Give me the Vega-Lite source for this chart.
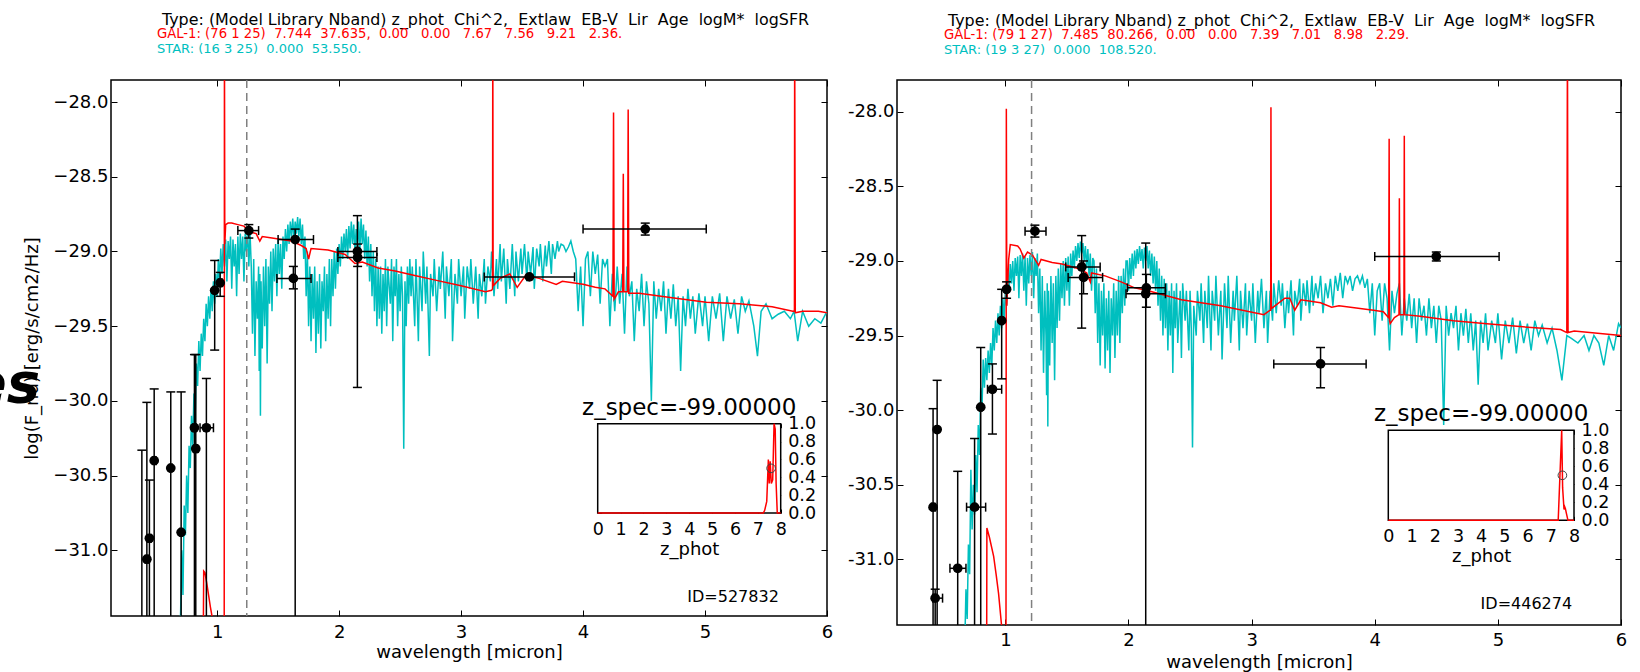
{
"$schema": "https://vega.github.io/schema/vega-lite/v6.json",
"background": "white",
"padding": {"left": -33, "top": 11, "right": 0, "bottom": 0},
"spacing": 70,
"bounds": "flush",
"config": {
 "view": {"stroke": "black", "strokeWidth": 1.5},
 "axis": {"labelFont": "DejaVu Sans", "titleFont": "DejaVu Sans", "labelColor": "black", "titleColor": "black", "tickColor": "black", "domain": false, "grid": false, "titleFontWeight": "normal", "labelFontSize": 18, "titleFontSize": 18, "tickWidth": 1},
 "text": {"font": "DejaVu Sans"}
},
"datasets": {
 "starA": [{"x":0.66,"y":-31.7},{"x":0.7,"y":-31.45},{"x":0.71,"y":-31.0},{"x":0.72,"y":-31.3},{"x":0.73,"y":-30.7},{"x":0.74,"y":-30.9},{"x":0.75,"y":-30.5},{"x":0.76,"y":-30.75},{"x":0.77,"y":-30.3},{"x":0.78,"y":-30.45},{"x":0.79,"y":-30.1},{"x":0.8,"y":-30.3},{"x":0.81,"y":-29.95},{"x":0.82,"y":-30.1},{"x":0.83,"y":-29.75},{"x":0.84,"y":-29.9},{"x":0.85,"y":-29.6},{"x":0.86,"y":-29.8},{"x":0.87,"y":-29.55},{"x":0.88,"y":-29.7},{"x":0.89,"y":-29.45},{"x":0.9,"y":-29.6},{"x":0.91,"y":-29.35},{"x":0.92,"y":-29.5},{"x":0.93,"y":-29.3},{"x":0.94,"y":-29.45},{"x":0.95,"y":-29.25},{"x":0.96,"y":-29.4},{"x":0.97,"y":-29.2},{"x":0.98,"y":-29.35},{"x":0.99,"y":-29.15},{"x":1.0,"y":-29.3},{"x":1.01,"y":-29.05},{"x":1.02,"y":-29.2},{"x":1.03,"y":-28.98},{"x":1.04,"y":-29.15},{"x":1.05,"y":-28.95},{"x":1.06,"y":-29.1},{"x":1.07,"y":-28.92},{"x":1.08,"y":-29.2},{"x":1.09,"y":-28.93},{"x":1.1,"y":-29.05},{"x":1.11,"y":-28.9},{"x":1.12,"y":-29.25},{"x":1.13,"y":-28.92},{"x":1.14,"y":-29.1},{"x":1.15,"y":-28.95},{"x":1.16,"y":-29.3},{"x":1.17,"y":-28.9},{"x":1.18,"y":-29.15},{"x":1.19,"y":-28.88},{"x":1.2,"y":-29.05},{"x":1.21,"y":-28.9},{"x":1.22,"y":-29.2},{"x":1.23,"y":-28.88},{"x":1.24,"y":-29.0},{"x":1.25,"y":-28.85},{"x":1.26,"y":-29.1},{"x":1.27,"y":-28.88},{"x":1.28,"y":-29.1},{"x":1.29,"y":-29.55},{"x":1.3,"y":-29.05},{"x":1.31,"y":-29.7},{"x":1.32,"y":-29.2},{"x":1.33,"y":-29.45},{"x":1.34,"y":-29.1},{"x":1.345,"y":-29.8},{"x":1.35,"y":-29.15},{"x":1.355,"y":-30.1},{"x":1.36,"y":-29.2},{"x":1.37,"y":-29.65},{"x":1.38,"y":-29.1},{"x":1.39,"y":-29.5},{"x":1.4,"y":-29.05},{"x":1.41,"y":-29.75},{"x":1.42,"y":-29.1},{"x":1.43,"y":-29.35},{"x":1.44,"y":-29.0},{"x":1.45,"y":-29.4},{"x":1.46,"y":-28.98},{"x":1.47,"y":-29.2},{"x":1.48,"y":-28.95},{"x":1.49,"y":-29.3},{"x":1.5,"y":-28.92},{"x":1.51,"y":-29.15},{"x":1.52,"y":-28.95},{"x":1.53,"y":-29.25},{"x":1.54,"y":-28.9},{"x":1.55,"y":-29.05},{"x":1.56,"y":-28.85},{"x":1.57,"y":-29.0},{"x":1.58,"y":-28.82},{"x":1.59,"y":-28.95},{"x":1.6,"y":-28.8},{"x":1.61,"y":-28.9},{"x":1.62,"y":-28.78},{"x":1.63,"y":-28.92},{"x":1.64,"y":-28.8},{"x":1.65,"y":-28.88},{"x":1.66,"y":-28.77},{"x":1.67,"y":-28.9},{"x":1.68,"y":-28.78},{"x":1.69,"y":-28.95},{"x":1.7,"y":-28.82},{"x":1.71,"y":-29.05},{"x":1.72,"y":-28.9},{"x":1.73,"y":-29.3},{"x":1.74,"y":-29.0},{"x":1.75,"y":-29.5},{"x":1.76,"y":-29.1},{"x":1.77,"y":-29.6},{"x":1.78,"y":-29.15},{"x":1.79,"y":-29.45},{"x":1.8,"y":-29.1},{"x":1.81,"y":-29.68},{"x":1.82,"y":-29.2},{"x":1.83,"y":-29.55},{"x":1.84,"y":-29.15},{"x":1.85,"y":-29.65},{"x":1.86,"y":-29.2},{"x":1.87,"y":-29.4},{"x":1.88,"y":-29.1},{"x":1.89,"y":-29.6},{"x":1.9,"y":-29.15},{"x":1.91,"y":-29.45},{"x":1.92,"y":-29.05},{"x":1.93,"y":-29.5},{"x":1.94,"y":-29.05},{"x":1.95,"y":-29.3},{"x":1.96,"y":-29.0},{"x":1.97,"y":-29.25},{"x":1.98,"y":-28.98},{"x":1.99,"y":-29.15},{"x":2.0,"y":-28.95},{"x":2.01,"y":-29.1},{"x":2.02,"y":-28.9},{"x":2.03,"y":-29.05},{"x":2.04,"y":-28.88},{"x":2.05,"y":-29.0},{"x":2.06,"y":-28.85},{"x":2.07,"y":-29.05},{"x":2.08,"y":-28.83},{"x":2.09,"y":-28.98},{"x":2.1,"y":-28.8},{"x":2.11,"y":-28.95},{"x":2.12,"y":-28.82},{"x":2.13,"y":-29.0},{"x":2.14,"y":-28.85},{"x":2.15,"y":-28.97},{"x":2.16,"y":-28.8},{"x":2.17,"y":-29.0},{"x":2.18,"y":-28.78},{"x":2.19,"y":-28.95},{"x":2.2,"y":-28.82},{"x":2.21,"y":-29.05},{"x":2.22,"y":-28.86},{"x":2.23,"y":-29.1},{"x":2.24,"y":-28.9},{"x":2.25,"y":-29.2},{"x":2.26,"y":-28.95},{"x":2.27,"y":-29.3},{"x":2.28,"y":-29.0},{"x":2.29,"y":-29.4},{"x":2.3,"y":-29.05},{"x":2.31,"y":-29.5},{"x":2.32,"y":-29.1},{"x":2.33,"y":-29.45},{"x":2.34,"y":-29.1},{"x":2.35,"y":-29.55},{"x":2.36,"y":-29.15},{"x":2.37,"y":-29.4},{"x":2.38,"y":-29.05},{"x":2.39,"y":-29.5},{"x":2.4,"y":-29.1},{"x":2.42,"y":-29.35},{"x":2.43,"y":-29.05},{"x":2.44,"y":-29.6},{"x":2.45,"y":-29.1},{"x":2.46,"y":-29.3},{"x":2.47,"y":-29.05},{"x":2.48,"y":-29.5},{"x":2.49,"y":-29.15},{"x":2.5,"y":-29.4},{"x":2.51,"y":-29.1},{"x":2.52,"y":-29.3},{"x":2.53,"y":-30.32},{"x":2.54,"y":-29.2},{"x":2.55,"y":-29.5},{"x":2.56,"y":-29.1},{"x":2.57,"y":-29.35},{"x":2.58,"y":-29.05},{"x":2.59,"y":-29.3},{"x":2.6,"y":-29.1},{"x":2.62,"y":-29.5},{"x":2.63,"y":-29.05},{"x":2.65,"y":-29.6},{"x":2.66,"y":-29.1},{"x":2.68,"y":-29.4},{"x":2.69,"y":-29.0},{"x":2.71,"y":-29.35},{"x":2.72,"y":-29.1},{"x":2.74,"y":-29.7},{"x":2.75,"y":-29.15},{"x":2.77,"y":-29.3},{"x":2.78,"y":-29.05},{"x":2.8,"y":-29.4},{"x":2.82,"y":-29.1},{"x":2.83,"y":-29.25},{"x":2.85,"y":-29.0},{"x":2.87,"y":-29.45},{"x":2.88,"y":-29.1},{"x":2.9,"y":-29.3},{"x":2.92,"y":-29.05},{"x":2.93,"y":-29.6},{"x":2.95,"y":-29.15},{"x":2.97,"y":-29.35},{"x":2.98,"y":-29.05},{"x":3.0,"y":-29.3},{"x":3.02,"y":-29.1},{"x":3.03,"y":-29.45},{"x":3.05,"y":-29.1},{"x":3.07,"y":-29.25},{"x":3.08,"y":-29.05},{"x":3.1,"y":-29.35},{"x":3.12,"y":-29.1},{"x":3.14,"y":-29.45},{"x":3.15,"y":-29.15},{"x":3.17,"y":-29.3},{"x":3.19,"y":-29.05},{"x":3.2,"y":-29.35},{"x":3.22,"y":-29.1},{"x":3.24,"y":-29.2},{"x":3.25,"y":-29.0},{"x":3.27,"y":-29.3},{"x":3.29,"y":-29.05},{"x":3.3,"y":-29.25},{"x":3.32,"y":-28.95},{"x":3.33,"y":-29.2},{"x":3.35,"y":-28.98},{"x":3.37,"y":-29.35},{"x":3.38,"y":-29.05},{"x":3.4,"y":-29.25},{"x":3.42,"y":-28.95},{"x":3.44,"y":-29.3},{"x":3.45,"y":-29.0},{"x":3.47,"y":-29.2},{"x":3.49,"y":-28.98},{"x":3.5,"y":-29.15},{"x":3.52,"y":-28.95},{"x":3.54,"y":-29.2},{"x":3.55,"y":-29.0},{"x":3.57,"y":-29.15},{"x":3.59,"y":-28.97},{"x":3.6,"y":-29.25},{"x":3.62,"y":-28.98},{"x":3.64,"y":-29.1},{"x":3.65,"y":-28.95},{"x":3.67,"y":-29.2},{"x":3.69,"y":-28.96},{"x":3.7,"y":-29.1},{"x":3.72,"y":-28.93},{"x":3.74,"y":-29.15},{"x":3.75,"y":-28.95},{"x":3.77,"y":-29.05},{"x":3.79,"y":-28.93},{"x":3.8,"y":-29.0},{"x":3.82,"y":-28.95},{"x":3.84,"y":-28.96},{"x":3.86,"y":-29.0},{"x":3.88,"y":-28.97},{"x":3.9,"y":-28.93},{"x":3.92,"y":-29.0},{"x":3.94,"y":-29.05},{"x":3.96,"y":-29.4},{"x":3.98,"y":-29.1},{"x":4.0,"y":-29.5},{"x":4.02,"y":-29.05},{"x":4.04,"y":-29.0},{"x":4.06,"y":-29.3},{"x":4.08,"y":-29.0},{"x":4.1,"y":-29.15},{"x":4.12,"y":-29.02},{"x":4.14,"y":-29.35},{"x":4.16,"y":-29.05},{"x":4.18,"y":-29.1},{"x":4.2,"y":-29.05},{"x":4.22,"y":-29.5},{"x":4.24,"y":-29.15},{"x":4.26,"y":-29.4},{"x":4.28,"y":-29.1},{"x":4.3,"y":-29.35},{"x":4.32,"y":-29.15},{"x":4.34,"y":-29.55},{"x":4.36,"y":-29.1},{"x":4.38,"y":-29.3},{"x":4.4,"y":-29.2},{"x":4.42,"y":-29.6},{"x":4.44,"y":-29.25},{"x":4.46,"y":-29.4},{"x":4.48,"y":-29.15},{"x":4.5,"y":-29.5},{"x":4.52,"y":-29.2},{"x":4.54,"y":-29.35},{"x":4.56,"y":-30.0},{"x":4.58,"y":-29.2},{"x":4.6,"y":-29.45},{"x":4.62,"y":-29.25},{"x":4.64,"y":-29.4},{"x":4.66,"y":-29.2},{"x":4.68,"y":-29.55},{"x":4.7,"y":-29.25},{"x":4.72,"y":-29.45},{"x":4.74,"y":-29.22},{"x":4.76,"y":-29.5},{"x":4.78,"y":-29.3},{"x":4.8,"y":-29.8},{"x":4.82,"y":-29.3},{"x":4.84,"y":-29.5},{"x":4.86,"y":-29.25},{"x":4.88,"y":-29.45},{"x":4.9,"y":-29.3},{"x":4.92,"y":-29.55},{"x":4.95,"y":-29.28},{"x":4.98,"y":-29.5},{"x":5.0,"y":-29.3},{"x":5.03,"y":-29.6},{"x":5.06,"y":-29.3},{"x":5.09,"y":-29.45},{"x":5.12,"y":-29.28},{"x":5.15,"y":-29.6},{"x":5.18,"y":-29.3},{"x":5.21,"y":-29.45},{"x":5.24,"y":-29.32},{"x":5.27,"y":-29.55},{"x":5.3,"y":-29.3},{"x":5.33,"y":-29.4},{"x":5.36,"y":-29.33},{"x":5.4,"y":-29.5},{"x":5.43,"y":-29.7},{"x":5.46,"y":-29.4},{"x":5.5,"y":-29.35},{"x":5.55,"y":-29.45},{"x":5.6,"y":-29.42},{"x":5.65,"y":-29.4},{"x":5.7,"y":-29.45},{"x":5.73,"y":-29.4},{"x":5.76,"y":-29.6},{"x":5.8,"y":-29.4},{"x":5.85,"y":-29.5},{"x":5.9,"y":-29.45},{"x":5.95,"y":-29.48},{"x":6.0,"y":-29.4}],
 "galA": [{"x":0.8,"y":-31.8},{"x":0.885,"y":-31.8},{"x":0.89,"y":-31.14},{"x":0.9,"y":-31.15},{"x":0.915,"y":-31.22},{"x":0.93,"y":-31.3},{"x":0.945,"y":-31.38},{"x":0.96,"y":-31.45},{"x":0.98,"y":-31.6},{"x":1.05,"y":-31.8},{"x":1.058,"y":-31.8},{"x":1.06,"y":-27.5},{"x":1.063,"y":-28.95},{"x":1.07,"y":-28.82},{"x":1.09,"y":-28.81},{"x":1.12,"y":-28.81},{"x":1.17,"y":-28.82},{"x":1.22,"y":-28.83},{"x":1.27,"y":-28.87},{"x":1.32,"y":-28.88},{"x":1.35,"y":-28.93},{"x":1.37,"y":-28.9},{"x":1.45,"y":-28.91},{"x":1.53,"y":-28.92},{"x":1.61,"y":-28.93},{"x":1.69,"y":-28.96},{"x":1.73,"y":-28.98},{"x":1.75,"y":-29.05},{"x":1.77,"y":-28.98},{"x":1.91,"y":-28.99},{"x":2.05,"y":-29.02},{"x":2.13,"y":-29.08},{"x":2.19,"y":-29.07},{"x":2.32,"y":-29.11},{"x":2.46,"y":-29.13},{"x":2.62,"y":-29.16},{"x":2.78,"y":-29.19},{"x":3.0,"y":-29.23},{"x":3.2,"y":-29.27},{"x":3.25,"y":-29.26},{"x":3.258,"y":-29.25},{"x":3.26,"y":-27.5},{"x":3.263,"y":-29.23},{"x":3.32,"y":-29.18},{"x":3.4,"y":-29.15},{"x":3.46,"y":-29.24},{"x":3.53,"y":-29.16},{"x":3.64,"y":-29.18},{"x":3.78,"y":-29.22},{"x":3.83,"y":-29.2},{"x":4.0,"y":-29.22},{"x":4.1,"y":-29.24},{"x":4.18,"y":-29.25},{"x":4.245,"y":-29.3},{"x":4.25,"y":-28.07},{"x":4.255,"y":-29.32},{"x":4.29,"y":-29.27},{"x":4.325,"y":-29.27},{"x":4.33,"y":-28.48},{"x":4.335,"y":-29.27},{"x":4.365,"y":-29.27},{"x":4.37,"y":-28.05},{"x":4.375,"y":-29.28},{"x":4.46,"y":-29.28},{"x":4.73,"y":-29.31},{"x":5.01,"y":-29.34},{"x":5.28,"y":-29.35},{"x":5.55,"y":-29.37},{"x":5.72,"y":-29.4},{"x":5.733,"y":-29.4},{"x":5.735,"y":-27.5},{"x":5.74,"y":-29.41},{"x":5.8,"y":-29.4},{"x":5.93,"y":-29.4},{"x":6.0,"y":-29.41}],
 "obsA": [{"x":0.383,"y":-31.6,"ylo":-32.0,"yhi":-30.33,"xlo":0.383,"xhi":0.383},{"x":0.424,"y":-31.06,"ylo":-32.0,"yhi":-30.01,"xlo":0.41,"xhi":0.44},{"x":0.445,"y":-30.92,"ylo":-32.0,"yhi":-30.53,"xlo":0.43,"xhi":0.46},{"x":0.484,"y":-30.4,"ylo":-32.0,"yhi":-29.92,"xlo":0.47,"xhi":0.5},{"x":0.62,"y":-30.45,"ylo":-32.0,"yhi":-29.94,"xlo":0.61,"xhi":0.63},{"x":0.705,"y":-30.88,"ylo":-32.0,"yhi":-29.94,"xlo":0.695,"xhi":0.715},{"x":0.814,"y":-30.18,"ylo":-32.0,"yhi":-29.69,"xlo":0.8,"xhi":0.83},{"x":0.825,"y":-30.32,"ylo":-32.0,"yhi":-29.69,"xlo":0.81,"xhi":0.84},{"x":0.912,"y":-30.18,"ylo":-32.0,"yhi":-29.85,"xlo":0.86,"xhi":0.97},{"x":0.98,"y":-29.26,"ylo":-29.66,"yhi":-29.06,"xlo":0.97,"xhi":0.99},{"x":1.025,"y":-29.21,"ylo":-29.3,"yhi":-29.14,"xlo":1.01,"xhi":1.04},{"x":1.26,"y":-28.86,"ylo":-28.91,"yhi":-28.82,"xlo":1.17,"xhi":1.34},{"x":1.64,"y":-28.92,"ylo":-32.0,"yhi":-28.85,"xlo":1.5,"xhi":1.79},{"x":1.625,"y":-29.18,"ylo":-29.25,"yhi":-29.1,"xlo":1.49,"xhi":1.77},{"x":2.15,"y":-29.0,"ylo":-29.91,"yhi":-28.76,"xlo":1.99,"xhi":2.31},{"x":2.152,"y":-29.04,"ylo":-29.1,"yhi":-28.95,"xlo":1.99,"xhi":2.31},{"x":3.56,"y":-29.17,"ylo":-29.18,"yhi":-29.16,"xlo":3.19,"xhi":3.93},{"x":4.51,"y":-28.85,"ylo":-28.89,"yhi":-28.81,"xlo":4.0,"xhi":5.01}],
 "pdfA": [{"z":0,"p":0},{"z":7.24,"p":0},{"z":7.3,"p":0.03},{"z":7.39,"p":0.13},{"z":7.46,"p":0.6},{"z":7.5,"p":0.33},{"z":7.54,"p":0.58},{"z":7.59,"p":0.33},{"z":7.65,"p":0.37},{"z":7.71,"p":1.0},{"z":7.76,"p":0.94},{"z":7.8,"p":0.33},{"z":7.85,"p":0},{"z":8,"p":0}],
 "starB": [{"x":0.67,"y":-31.6},{"x":0.68,"y":-31.2},{"x":0.69,"y":-31.4},{"x":0.7,"y":-30.9},{"x":0.71,"y":-31.1},{"x":0.72,"y":-30.4},{"x":0.73,"y":-30.8},{"x":0.74,"y":-30.5},{"x":0.75,"y":-30.7},{"x":0.76,"y":-30.3},{"x":0.77,"y":-30.55},{"x":0.78,"y":-30.1},{"x":0.79,"y":-30.3},{"x":0.8,"y":-29.85},{"x":0.81,"y":-30.0},{"x":0.82,"y":-29.66},{"x":0.83,"y":-29.85},{"x":0.84,"y":-29.65},{"x":0.85,"y":-29.8},{"x":0.86,"y":-29.6},{"x":0.87,"y":-29.75},{"x":0.88,"y":-29.55},{"x":0.89,"y":-29.7},{"x":0.9,"y":-29.45},{"x":0.91,"y":-29.6},{"x":0.92,"y":-29.4},{"x":0.93,"y":-29.55},{"x":0.94,"y":-29.35},{"x":0.95,"y":-29.5},{"x":0.96,"y":-29.3},{"x":0.97,"y":-29.45},{"x":0.98,"y":-29.25},{"x":0.99,"y":-29.4},{"x":1.0,"y":-29.2},{"x":1.01,"y":-29.3},{"x":1.02,"y":-29.05},{"x":1.03,"y":-29.2},{"x":1.04,"y":-29.02},{"x":1.05,"y":-29.15},{"x":1.06,"y":-29.0},{"x":1.07,"y":-29.2},{"x":1.08,"y":-28.98},{"x":1.09,"y":-29.1},{"x":1.1,"y":-28.97},{"x":1.11,"y":-29.25},{"x":1.12,"y":-28.96},{"x":1.13,"y":-29.1},{"x":1.14,"y":-28.95},{"x":1.15,"y":-29.2},{"x":1.16,"y":-28.97},{"x":1.17,"y":-29.3},{"x":1.18,"y":-28.98},{"x":1.19,"y":-29.15},{"x":1.2,"y":-28.96},{"x":1.21,"y":-29.1},{"x":1.22,"y":-28.94},{"x":1.23,"y":-29.25},{"x":1.24,"y":-28.98},{"x":1.25,"y":-29.1},{"x":1.26,"y":-28.95},{"x":1.27,"y":-29.35},{"x":1.28,"y":-29.05},{"x":1.29,"y":-29.6},{"x":1.3,"y":-29.1},{"x":1.31,"y":-29.75},{"x":1.32,"y":-29.2},{"x":1.33,"y":-29.5},{"x":1.335,"y":-29.9},{"x":1.34,"y":-29.15},{"x":1.345,"y":-30.11},{"x":1.35,"y":-29.2},{"x":1.36,"y":-29.7},{"x":1.37,"y":-29.1},{"x":1.38,"y":-29.55},{"x":1.39,"y":-29.15},{"x":1.4,"y":-29.8},{"x":1.41,"y":-29.1},{"x":1.42,"y":-29.45},{"x":1.43,"y":-29.05},{"x":1.44,"y":-29.4},{"x":1.45,"y":-29.02},{"x":1.46,"y":-29.25},{"x":1.47,"y":-29.0},{"x":1.48,"y":-29.3},{"x":1.49,"y":-28.98},{"x":1.5,"y":-29.2},{"x":1.51,"y":-28.97},{"x":1.52,"y":-29.3},{"x":1.53,"y":-28.95},{"x":1.54,"y":-29.1},{"x":1.55,"y":-28.93},{"x":1.56,"y":-29.05},{"x":1.57,"y":-28.9},{"x":1.58,"y":-29.0},{"x":1.59,"y":-28.88},{"x":1.6,"y":-28.98},{"x":1.61,"y":-28.87},{"x":1.62,"y":-28.95},{"x":1.63,"y":-28.88},{"x":1.64,"y":-29.0},{"x":1.65,"y":-28.9},{"x":1.66,"y":-29.05},{"x":1.67,"y":-28.92},{"x":1.68,"y":-29.1},{"x":1.69,"y":-28.95},{"x":1.7,"y":-29.2},{"x":1.71,"y":-28.98},{"x":1.72,"y":-29.0},{"x":1.73,"y":-29.35},{"x":1.74,"y":-29.05},{"x":1.75,"y":-29.55},{"x":1.76,"y":-29.15},{"x":1.77,"y":-29.7},{"x":1.78,"y":-29.2},{"x":1.79,"y":-29.5},{"x":1.8,"y":-29.15},{"x":1.81,"y":-29.72},{"x":1.82,"y":-29.25},{"x":1.83,"y":-29.6},{"x":1.84,"y":-29.2},{"x":1.85,"y":-29.75},{"x":1.86,"y":-29.25},{"x":1.87,"y":-29.5},{"x":1.88,"y":-29.15},{"x":1.89,"y":-29.65},{"x":1.9,"y":-29.2},{"x":1.91,"y":-29.5},{"x":1.92,"y":-29.1},{"x":1.93,"y":-29.55},{"x":1.94,"y":-29.1},{"x":1.95,"y":-29.35},{"x":1.96,"y":-29.05},{"x":1.97,"y":-29.3},{"x":1.98,"y":-29.0},{"x":1.99,"y":-29.0},{"x":2.0,"y":-29.2},{"x":2.01,"y":-28.98},{"x":2.02,"y":-29.12},{"x":2.03,"y":-28.95},{"x":2.04,"y":-29.1},{"x":2.05,"y":-28.93},{"x":2.06,"y":-29.05},{"x":2.07,"y":-28.92},{"x":2.08,"y":-29.02},{"x":2.09,"y":-28.9},{"x":2.1,"y":-29.0},{"x":2.11,"y":-28.92},{"x":2.12,"y":-29.05},{"x":2.13,"y":-28.91},{"x":2.14,"y":-29.0},{"x":2.15,"y":-28.9},{"x":2.16,"y":-29.05},{"x":2.17,"y":-28.93},{"x":2.18,"y":-29.1},{"x":2.19,"y":-28.95},{"x":2.2,"y":-29.15},{"x":2.21,"y":-28.97},{"x":2.22,"y":-29.2},{"x":2.23,"y":-29.0},{"x":2.24,"y":-29.3},{"x":2.25,"y":-29.05},{"x":2.26,"y":-29.4},{"x":2.27,"y":-29.1},{"x":2.28,"y":-29.5},{"x":2.29,"y":-29.12},{"x":2.3,"y":-29.45},{"x":2.31,"y":-29.15},{"x":2.32,"y":-29.6},{"x":2.33,"y":-29.2},{"x":2.34,"y":-29.5},{"x":2.35,"y":-29.15},{"x":2.36,"y":-29.75},{"x":2.37,"y":-29.2},{"x":2.38,"y":-29.45},{"x":2.39,"y":-29.15},{"x":2.4,"y":-29.55},{"x":2.42,"y":-29.2},{"x":2.43,"y":-29.65},{"x":2.44,"y":-29.15},{"x":2.46,"y":-29.4},{"x":2.47,"y":-29.2},{"x":2.49,"y":-29.6},{"x":2.5,"y":-29.2},{"x":2.51,"y":-29.45},{"x":2.52,"y":-30.25},{"x":2.53,"y":-29.3},{"x":2.55,"y":-29.5},{"x":2.56,"y":-29.2},{"x":2.58,"y":-29.4},{"x":2.59,"y":-29.15},{"x":2.61,"y":-29.55},{"x":2.62,"y":-29.2},{"x":2.64,"y":-29.45},{"x":2.65,"y":-29.1},{"x":2.67,"y":-29.6},{"x":2.68,"y":-29.2},{"x":2.7,"y":-29.4},{"x":2.71,"y":-29.1},{"x":2.73,"y":-29.5},{"x":2.75,"y":-29.2},{"x":2.76,"y":-29.66},{"x":2.78,"y":-29.15},{"x":2.8,"y":-29.45},{"x":2.81,"y":-29.1},{"x":2.83,"y":-29.55},{"x":2.85,"y":-29.2},{"x":2.86,"y":-29.4},{"x":2.88,"y":-29.1},{"x":2.9,"y":-29.6},{"x":2.91,"y":-29.2},{"x":2.93,"y":-29.45},{"x":2.95,"y":-29.15},{"x":2.96,"y":-29.5},{"x":2.98,"y":-29.2},{"x":3.0,"y":-29.4},{"x":3.01,"y":-29.15},{"x":3.03,"y":-29.55},{"x":3.05,"y":-29.2},{"x":3.06,"y":-29.35},{"x":3.08,"y":-29.12},{"x":3.1,"y":-29.45},{"x":3.12,"y":-29.2},{"x":3.13,"y":-29.55},{"x":3.15,"y":-29.2},{"x":3.17,"y":-29.4},{"x":3.18,"y":-29.15},{"x":3.2,"y":-29.35},{"x":3.22,"y":-29.13},{"x":3.24,"y":-29.3},{"x":3.25,"y":-29.15},{"x":3.27,"y":-29.45},{"x":3.29,"y":-29.2},{"x":3.3,"y":-29.35},{"x":3.32,"y":-29.13},{"x":3.34,"y":-29.5},{"x":3.35,"y":-29.2},{"x":3.37,"y":-29.3},{"x":3.39,"y":-29.12},{"x":3.4,"y":-29.4},{"x":3.42,"y":-29.15},{"x":3.44,"y":-29.3},{"x":3.45,"y":-29.13},{"x":3.47,"y":-29.35},{"x":3.49,"y":-29.1},{"x":3.5,"y":-29.3},{"x":3.52,"y":-29.15},{"x":3.54,"y":-29.25},{"x":3.56,"y":-29.1},{"x":3.58,"y":-29.35},{"x":3.6,"y":-29.15},{"x":3.62,"y":-29.25},{"x":3.64,"y":-29.12},{"x":3.66,"y":-29.3},{"x":3.68,"y":-29.1},{"x":3.7,"y":-29.2},{"x":3.72,"y":-29.08},{"x":3.74,"y":-29.25},{"x":3.76,"y":-29.1},{"x":3.78,"y":-29.15},{"x":3.8,"y":-29.1},{"x":3.82,"y":-29.2},{"x":3.84,"y":-29.12},{"x":3.86,"y":-29.1},{"x":3.88,"y":-29.15},{"x":3.9,"y":-29.1},{"x":3.92,"y":-29.18},{"x":3.94,"y":-29.12},{"x":3.96,"y":-29.35},{"x":3.98,"y":-29.15},{"x":4.0,"y":-29.5},{"x":4.02,"y":-29.2},{"x":4.04,"y":-29.15},{"x":4.06,"y":-29.4},{"x":4.08,"y":-29.15},{"x":4.1,"y":-29.25},{"x":4.12,"y":-29.6},{"x":4.14,"y":-29.2},{"x":4.16,"y":-29.35},{"x":4.18,"y":-29.22},{"x":4.2,"y":-29.15},{"x":4.22,"y":-29.5},{"x":4.24,"y":-29.25},{"x":4.26,"y":-29.4},{"x":4.28,"y":-29.22},{"x":4.3,"y":-29.45},{"x":4.32,"y":-29.25},{"x":4.34,"y":-29.55},{"x":4.36,"y":-29.25},{"x":4.38,"y":-29.4},{"x":4.4,"y":-29.3},{"x":4.42,"y":-29.5},{"x":4.44,"y":-29.25},{"x":4.46,"y":-29.45},{"x":4.48,"y":-29.3},{"x":4.5,"y":-29.55},{"x":4.52,"y":-29.3},{"x":4.54,"y":-29.4},{"x":4.56,"y":-30.1},{"x":4.58,"y":-29.3},{"x":4.6,"y":-29.5},{"x":4.62,"y":-29.35},{"x":4.64,"y":-29.45},{"x":4.66,"y":-29.3},{"x":4.68,"y":-29.6},{"x":4.7,"y":-29.35},{"x":4.72,"y":-29.5},{"x":4.74,"y":-29.32},{"x":4.76,"y":-29.55},{"x":4.78,"y":-29.35},{"x":4.8,"y":-29.6},{"x":4.82,"y":-29.4},{"x":4.84,"y":-29.83},{"x":4.86,"y":-29.4},{"x":4.88,"y":-29.55},{"x":4.9,"y":-29.35},{"x":4.92,"y":-29.6},{"x":4.95,"y":-29.4},{"x":4.98,"y":-29.55},{"x":5.0,"y":-29.35},{"x":5.03,"y":-29.66},{"x":5.06,"y":-29.4},{"x":5.09,"y":-29.55},{"x":5.12,"y":-29.38},{"x":5.15,"y":-29.62},{"x":5.18,"y":-29.4},{"x":5.21,"y":-29.55},{"x":5.24,"y":-29.42},{"x":5.27,"y":-29.6},{"x":5.3,"y":-29.4},{"x":5.33,"y":-29.5},{"x":5.36,"y":-29.43},{"x":5.4,"y":-29.55},{"x":5.44,"y":-29.45},{"x":5.48,"y":-29.6},{"x":5.52,"y":-29.8},{"x":5.56,"y":-29.5},{"x":5.6,"y":-29.52},{"x":5.65,"y":-29.55},{"x":5.7,"y":-29.5},{"x":5.74,"y":-29.6},{"x":5.78,"y":-29.5},{"x":5.82,"y":-29.55},{"x":5.86,"y":-29.7},{"x":5.9,"y":-29.5},{"x":5.94,"y":-29.6},{"x":5.98,"y":-29.42},{"x":6.0,"y":-29.45}],
 "galB": [{"x":0.8,"y":-31.8},{"x":0.848,"y":-31.8},{"x":0.85,"y":-30.79},{"x":0.87,"y":-30.85},{"x":0.905,"y":-30.98},{"x":0.925,"y":-31.1},{"x":0.945,"y":-31.23},{"x":0.97,"y":-31.45},{"x":1.0,"y":-31.8},{"x":1.005,"y":-31.8},{"x":1.008,"y":-27.98},{"x":1.012,"y":-29.3},{"x":1.027,"y":-28.99},{"x":1.04,"y":-28.89},{"x":1.1,"y":-28.9},{"x":1.12,"y":-28.92},{"x":1.15,"y":-28.98},{"x":1.18,"y":-28.94},{"x":1.22,"y":-28.96},{"x":1.27,"y":-29.03},{"x":1.29,"y":-28.99},{"x":1.38,"y":-29.01},{"x":1.46,"y":-29.02},{"x":1.59,"y":-29.05},{"x":1.66,"y":-29.08},{"x":1.69,"y":-29.14},{"x":1.7,"y":-29.08},{"x":1.81,"y":-29.1},{"x":1.94,"y":-29.14},{"x":2.05,"y":-29.18},{"x":2.16,"y":-29.2},{"x":2.43,"y":-29.26},{"x":2.75,"y":-29.3},{"x":3.1,"y":-29.36},{"x":3.15,"y":-29.33},{"x":3.155,"y":-29.33},{"x":3.157,"y":-27.97},{"x":3.16,"y":-29.32},{"x":3.27,"y":-29.25},{"x":3.31,"y":-29.25},{"x":3.35,"y":-29.33},{"x":3.4,"y":-29.26},{"x":3.56,"y":-29.28},{"x":3.65,"y":-29.31},{"x":3.71,"y":-29.3},{"x":3.99,"y":-29.33},{"x":4.07,"y":-29.34},{"x":4.113,"y":-29.38},{"x":4.117,"y":-28.18},{"x":4.12,"y":-29.4},{"x":4.125,"y":-29.42},{"x":4.16,"y":-29.38},{"x":4.197,"y":-29.36},{"x":4.2,"y":-28.58},{"x":4.203,"y":-29.36},{"x":4.237,"y":-29.36},{"x":4.24,"y":-28.16},{"x":4.243,"y":-29.36},{"x":4.37,"y":-29.37},{"x":4.64,"y":-29.4},{"x":4.91,"y":-29.42},{"x":5.18,"y":-29.44},{"x":5.51,"y":-29.46},{"x":5.56,"y":-29.48},{"x":5.565,"y":-27.5},{"x":5.57,"y":-29.48},{"x":5.62,"y":-29.47},{"x":6.0,"y":-29.5}],
 "obsB": [{"x":0.413,"y":-30.65,"ylo":-32.0,"yhi":-29.99,"xlo":0.4,"xhi":0.43},{"x":0.446,"y":-30.13,"ylo":-32.0,"yhi":-29.8,"xlo":0.435,"xhi":0.455},{"x":0.43,"y":-31.26,"ylo":-32.0,"yhi":-31.2,"xlo":0.41,"xhi":0.49},{"x":0.613,"y":-31.06,"ylo":-32.0,"yhi":-30.41,"xlo":0.55,"xhi":0.68},{"x":0.75,"y":-30.65,"ylo":-32.0,"yhi":-30.19,"xlo":0.685,"xhi":0.84},{"x":0.8,"y":-29.98,"ylo":-32.0,"yhi":-29.58,"xlo":0.79,"xhi":0.81},{"x":0.895,"y":-29.86,"ylo":-30.16,"yhi":-29.69,"xlo":0.855,"xhi":0.97},{"x":0.97,"y":-29.4,"ylo":-29.79,"yhi":-29.19,"xlo":0.96,"xhi":0.98},{"x":1.01,"y":-29.19,"ylo":-29.25,"yhi":-29.14,"xlo":1.0,"xhi":1.02},{"x":1.24,"y":-28.8,"ylo":-28.84,"yhi":-28.76,"xlo":1.16,"xhi":1.33},{"x":1.62,"y":-29.04,"ylo":-29.45,"yhi":-28.83,"xlo":1.49,"xhi":1.77},{"x":1.635,"y":-29.11,"ylo":-29.22,"yhi":-29.0,"xlo":1.51,"xhi":1.79},{"x":2.145,"y":-29.18,"ylo":-29.31,"yhi":-29.09,"xlo":1.99,"xhi":2.3},{"x":2.14,"y":-29.22,"ylo":-32.0,"yhi":-28.88,"xlo":1.98,"xhi":2.3},{"x":3.56,"y":-29.69,"ylo":-29.85,"yhi":-29.58,"xlo":3.18,"xhi":3.93},{"x":4.5,"y":-28.97,"ylo":-29.0,"yhi":-28.94,"xlo":4.0,"xhi":5.01}],
 "pdfB": [{"z":0,"p":0},{"z":7.32,"p":0},{"z":7.47,"p":1.0},{"z":7.51,"p":0.36},{"z":7.57,"p":0.12},{"z":7.6,"p":0.15},{"z":7.63,"p":0.13},{"z":7.67,"p":0.08},{"z":7.74,"p":0},{"z":8,"p":0}]
},
"hconcat": [
 {
  "width": 716, "height": 536,
  "layer": [
   {
    "layer": [
     {"data": {"name": "starA"}, "mark": {"type": "line", "color": "#00bfbf", "strokeWidth": 1.5, "clip": true},
      "encoding": {
       "x": {"field": "x", "type": "quantitative", "scale": {"domain": [0.13, 6], "nice": false, "zero": false},
             "axis": {"orient": "bottom", "values": [1,2,3,4,5,6], "format": "d", "tickSize": -6, "labelPadding": 13, "labelFlush": false, "labelOverlap": false, "title": "wavelength [micron]", "titlePadding": 2}},
       "y": {"field": "y", "type": "quantitative", "scale": {"domain": [-31.44, -27.852], "nice": false, "zero": false},
             "axis": {"orient": "left", "values": [-28,-28.5,-29,-29.5,-30,-30.5,-31], "format": ".1f", "tickSize": -6, "labelPadding": 9, "labelOverlap": false, "title": "log(F_nu) [erg/s/cm2/Hz]", "titlePadding": 11}}}},
     {"data": {"name": "galA"}, "mark": {"type": "line", "color": "#ff0000", "strokeWidth": 1.5, "clip": true},
      "encoding": {
       "x": {"field": "x", "type": "quantitative", "axis": {"orient": "top", "values": [1,2,3,4,5,6], "tickSize": -6, "labels": false, "title": null}},
       "y": {"field": "y", "type": "quantitative", "axis": {"orient": "right", "values": [-28,-28.5,-29,-29.5,-30,-30.5,-31], "tickSize": -6, "labels": false, "title": null}}}},
     {"data": {"values": [{}]}, "mark": {"type": "rule", "color": "#808080", "strokeWidth": 1.5, "strokeDash": [8, 5]},
      "encoding": {"x": {"datum": 1.243, "type": "quantitative", "axis": null}}},
     {"data": {"name": "obsA"}, "mark": {"type": "rule", "color": "black", "strokeWidth": 1.5, "clip": true},
      "encoding": {"x": {"field": "x", "type": "quantitative", "axis": null}, "y": {"field": "ylo", "type": "quantitative", "axis": null}, "y2": {"field": "yhi"}}},
     {"data": {"name": "obsA"}, "mark": {"type": "rule", "color": "black", "strokeWidth": 1.5, "clip": true},
      "encoding": {"x": {"field": "xlo", "type": "quantitative", "axis": null}, "x2": {"field": "xhi"}, "y": {"field": "y", "type": "quantitative", "axis": null}}},
     {"data": {"name": "obsA"}, "mark": {"type": "tick", "orient": "horizontal", "color": "black", "size": 9, "thickness": 1.5, "opacity": 1, "clip": true},
      "encoding": {"x": {"field": "x", "type": "quantitative", "axis": null}, "y": {"field": "yhi", "type": "quantitative", "axis": null}}},
     {"data": {"name": "obsA"}, "mark": {"type": "tick", "orient": "horizontal", "color": "black", "size": 9, "thickness": 1.5, "opacity": 1, "clip": true},
      "encoding": {"x": {"field": "x", "type": "quantitative", "axis": null}, "y": {"field": "ylo", "type": "quantitative", "axis": null}}},
     {"data": {"name": "obsA"}, "mark": {"type": "tick", "orient": "vertical", "color": "black", "size": 9, "thickness": 1.5, "opacity": 1, "clip": true},
      "encoding": {"x": {"field": "xlo", "type": "quantitative", "axis": null}, "y": {"field": "y", "type": "quantitative", "axis": null}}},
     {"data": {"name": "obsA"}, "mark": {"type": "tick", "orient": "vertical", "color": "black", "size": 9, "thickness": 1.5, "opacity": 1, "clip": true},
      "encoding": {"x": {"field": "xhi", "type": "quantitative", "axis": null}, "y": {"field": "y", "type": "quantitative", "axis": null}}},
     {"data": {"name": "obsA"}, "mark": {"type": "circle", "color": "black", "size": 95, "opacity": 1, "clip": true},
      "encoding": {"x": {"field": "x", "type": "quantitative", "axis": null}, "y": {"field": "y", "type": "quantitative", "axis": null}}},
     {"data": {"values": [{}]}, "mark": {"type": "text", "text": "Type: (Model Library Nband) z_phot \u00a0Chi^2, \u00a0Extlaw \u00a0EB-V \u00a0Lir \u00a0Age \u00a0logM* \u00a0logSFR", "color": "black", "fontSize": 15.9, "align": "left", "baseline": "middle"},
      "encoding": {"x": {"datum": 0.548, "type": "quantitative", "axis": null}, "y": {"datum": -27.45, "type": "quantitative", "axis": null}}},
     {"data": {"values": [{}]}, "mark": {"type": "text", "text": "GAL-1: (76 1 25) \u00a07.744 \u00a037.635, \u00a00.00 \u00a0 0.00 \u00a0 7.67 \u00a0 7.56 \u00a0 9.21 \u00a0 2.36.", "color": "#ff0000", "fontSize": 13.2, "align": "left", "baseline": "middle"},
      "encoding": {"x": {"datum": 0.507, "type": "quantitative", "axis": null}, "y": {"datum": -27.544, "type": "quantitative", "axis": null}}},
     {"data": {"values": [{}]}, "mark": {"type": "text", "text": "STAR: (16 3 25) \u00a00.000 \u00a053.550.", "color": "#00bfbf", "fontSize": 13, "align": "left", "baseline": "middle"},
      "encoding": {"x": {"datum": 0.507, "type": "quantitative", "axis": null}, "y": {"datum": -27.645, "type": "quantitative", "axis": null}}},
     {"data": {"values": [{}]}, "mark": {"type": "text", "text": "ID=527832", "color": "black", "fontSize": 16, "align": "right", "baseline": "middle"},
      "encoding": {"x": {"datum": 5.605, "type": "quantitative", "axis": null}, "y": {"datum": -31.312, "type": "quantitative", "axis": null}}},
     {"data": {"values": [{}]}, "mark": {"type": "text", "text": "es", "color": "black", "font": "DejaVu Sans", "fontWeight": "bold", "fontStyle": "italic", "fontSize": 56, "align": "right", "baseline": "alphabetic"},
      "encoding": {"x": {"datum": -0.452, "type": "quantitative", "axis": null}, "y": {"datum": -30.01, "type": "quantitative", "axis": null}}}
    ],
    "resolve": {"axis": {"x": "independent", "y": "independent"}}
   },
   {
    "layer": [
     {"data": {"values": [{}]}, "mark": {"type": "rect", "fill": "white", "stroke": "black", "strokeWidth": 1.5},
      "encoding": {
       "x": {"datum": 0, "type": "quantitative", "scale": {"domain": [0, 8], "range": [486.7, 669.7], "nice": false, "zero": false},
             "axis": {"orient": "bottom", "offset": -103, "values": [0,1,2,3,4,5,6,7,8], "format": "d", "tickSize": -4, "labelPadding": 11.5, "labelFontSize": 17.5, "labelFlush": false, "labelOverlap": false, "title": "z_phot", "titlePadding": 2}},
       "x2": {"datum": 8},
       "y": {"datum": 0, "type": "quantitative", "scale": {"domain": [0, 1], "range": [433, 343.7], "nice": false, "zero": false},
             "axis": {"orient": "right", "offset": -46.3, "values": [0,0.2,0.4,0.6,0.8,1], "format": ".1f", "tickSize": -4, "labelPadding": 11, "labelFontSize": 17.5, "labelFlush": false, "labelOverlap": false, "title": null}},
       "y2": {"datum": 1}}},
     {"data": {"name": "pdfA"}, "mark": {"type": "line", "color": "#ff0000", "strokeWidth": 1.5},
      "encoding": {
       "x": {"field": "z", "type": "quantitative", "axis": {"orient": "top", "offset": -343.7, "values": [0,1,2,3,4,5,6,7,8], "tickSize": -4, "labels": false, "title": null}},
       "y": {"field": "p", "type": "quantitative", "axis": {"orient": "left", "offset": -486.7, "values": [0,0.2,0.4,0.6,0.8,1], "tickSize": -4, "labels": false, "title": null}}}},
     {"data": {"values": [{}]}, "mark": {"type": "point", "shape": "circle", "filled": false, "color": "#444444", "size": 75, "strokeWidth": 1, "opacity": 1},
      "encoding": {"x": {"datum": 7.58, "type": "quantitative", "axis": null}, "y": {"datum": 0.5, "type": "quantitative", "axis": null}}},
     {"data": {"values": [{}]}, "mark": {"type": "text", "text": "z_spec=-99.00000", "color": "black", "fontSize": 23, "align": "center", "baseline": "middle"},
      "encoding": {"x": {"datum": 4, "type": "quantitative", "axis": null}, "y": {"datum": 1.18, "type": "quantitative", "axis": null}}}
    ],
    "resolve": {"axis": {"x": "independent", "y": "independent"}}
   }
  ],
  "resolve": {"scale": {"x": "independent", "y": "independent"}}
 },
 {
  "width": 724, "height": 545,
  "layer": [
   {
    "layer": [
     {"data": {"name": "starB"}, "mark": {"type": "line", "color": "#00bfbf", "strokeWidth": 1.5, "clip": true},
      "encoding": {
       "x": {"field": "x", "type": "quantitative", "scale": {"domain": [0.12, 6], "nice": false, "zero": false},
             "axis": {"orient": "bottom", "values": [1,2,3,4,5,6], "format": "d", "tickSize": -6, "labelPadding": 12.6, "labelFlush": false, "labelOverlap": false, "title": "wavelength [micron]", "titlePadding": 3.4}},
       "y": {"field": "y", "type": "quantitative", "scale": {"domain": [-31.44, -27.787], "nice": false, "zero": false},
             "axis": {"orient": "left", "values": [-28,-28.5,-29,-29.5,-30,-30.5,-31], "labelExpr": "replace(format(datum.value, '.1f'), '\u2212', '-')", "tickSize": -6, "labelPadding": 9, "labelOverlap": false, "title": null}}}},
     {"data": {"name": "galB"}, "mark": {"type": "line", "color": "#ff0000", "strokeWidth": 1.5, "clip": true},
      "encoding": {
       "x": {"field": "x", "type": "quantitative", "axis": {"orient": "top", "values": [1,2,3,4,5,6], "tickSize": -6, "labels": false, "title": null}},
       "y": {"field": "y", "type": "quantitative", "axis": {"orient": "right", "values": [-28,-28.5,-29,-29.5,-30,-30.5,-31], "tickSize": -6, "labels": false, "title": null}}}},
     {"data": {"values": [{}]}, "mark": {"type": "rule", "color": "#808080", "strokeWidth": 1.5, "strokeDash": [8, 5]},
      "encoding": {"x": {"datum": 1.213, "type": "quantitative", "axis": null}}},
     {"data": {"name": "obsB"}, "mark": {"type": "rule", "color": "black", "strokeWidth": 1.5, "clip": true},
      "encoding": {"x": {"field": "x", "type": "quantitative", "axis": null}, "y": {"field": "ylo", "type": "quantitative", "axis": null}, "y2": {"field": "yhi"}}},
     {"data": {"name": "obsB"}, "mark": {"type": "rule", "color": "black", "strokeWidth": 1.5, "clip": true},
      "encoding": {"x": {"field": "xlo", "type": "quantitative", "axis": null}, "x2": {"field": "xhi"}, "y": {"field": "y", "type": "quantitative", "axis": null}}},
     {"data": {"name": "obsB"}, "mark": {"type": "tick", "orient": "horizontal", "color": "black", "size": 9, "thickness": 1.5, "opacity": 1, "clip": true},
      "encoding": {"x": {"field": "x", "type": "quantitative", "axis": null}, "y": {"field": "yhi", "type": "quantitative", "axis": null}}},
     {"data": {"name": "obsB"}, "mark": {"type": "tick", "orient": "horizontal", "color": "black", "size": 9, "thickness": 1.5, "opacity": 1, "clip": true},
      "encoding": {"x": {"field": "x", "type": "quantitative", "axis": null}, "y": {"field": "ylo", "type": "quantitative", "axis": null}}},
     {"data": {"name": "obsB"}, "mark": {"type": "tick", "orient": "vertical", "color": "black", "size": 9, "thickness": 1.5, "opacity": 1, "clip": true},
      "encoding": {"x": {"field": "xlo", "type": "quantitative", "axis": null}, "y": {"field": "y", "type": "quantitative", "axis": null}}},
     {"data": {"name": "obsB"}, "mark": {"type": "tick", "orient": "vertical", "color": "black", "size": 9, "thickness": 1.5, "opacity": 1, "clip": true},
      "encoding": {"x": {"field": "xhi", "type": "quantitative", "axis": null}, "y": {"field": "y", "type": "quantitative", "axis": null}}},
     {"data": {"name": "obsB"}, "mark": {"type": "circle", "color": "black", "size": 95, "opacity": 1, "clip": true},
      "encoding": {"x": {"field": "x", "type": "quantitative", "axis": null}, "y": {"field": "y", "type": "quantitative", "axis": null}}},
     {"data": {"values": [{}]}, "mark": {"type": "text", "text": "Type: (Model Library Nband) z_phot \u00a0Chi^2, \u00a0Extlaw \u00a0EB-V \u00a0Lir \u00a0Age \u00a0logM* \u00a0logSFR", "color": "black", "fontSize": 15.9, "align": "left", "baseline": "middle"},
      "encoding": {"x": {"datum": 0.534, "type": "quantitative", "axis": null}, "y": {"datum": -27.392, "type": "quantitative", "axis": null}}},
     {"data": {"values": [{}]}, "mark": {"type": "text", "text": "GAL-1: (79 1 27) \u00a07.485 \u00a080.266, \u00a00.00 \u00a0 0.00 \u00a0 7.39 \u00a0 7.01 \u00a0 8.98 \u00a0 2.29.", "color": "#ff0000", "fontSize": 13.2, "align": "left", "baseline": "middle"},
      "encoding": {"x": {"datum": 0.502, "type": "quantitative", "axis": null}, "y": {"datum": -27.486, "type": "quantitative", "axis": null}}},
     {"data": {"values": [{}]}, "mark": {"type": "text", "text": "STAR: (19 3 27) \u00a00.000 \u00a0108.520.", "color": "#00bfbf", "fontSize": 13, "align": "left", "baseline": "middle"},
      "encoding": {"x": {"datum": 0.502, "type": "quantitative", "axis": null}, "y": {"datum": -27.587, "type": "quantitative", "axis": null}}},
     {"data": {"values": [{}]}, "mark": {"type": "text", "text": "ID=446274", "color": "black", "fontSize": 16, "align": "right", "baseline": "middle"},
      "encoding": {"x": {"datum": 5.603, "type": "quantitative", "axis": null}, "y": {"datum": -31.3, "type": "quantitative", "axis": null}}}
    ],
    "resolve": {"axis": {"x": "independent", "y": "independent"}}
   },
   {
    "layer": [
     {"data": {"values": [{}]}, "mark": {"type": "rect", "fill": "white", "stroke": "black", "strokeWidth": 1.5},
      "encoding": {
       "x": {"datum": 0, "type": "quantitative", "scale": {"domain": [0, 8], "range": [491.3, 677], "nice": false, "zero": false},
             "axis": {"orient": "bottom", "offset": -104.7, "values": [0,1,2,3,4,5,6,7,8], "format": "d", "tickSize": -4, "labelPadding": 11.5, "labelFontSize": 17.5, "labelFlush": false, "labelOverlap": false, "title": "z_phot", "titlePadding": 2}},
       "x2": {"datum": 8},
       "y": {"datum": 0, "type": "quantitative", "scale": {"domain": [0, 1], "range": [440.3, 350.3], "nice": false, "zero": false},
             "axis": {"orient": "right", "offset": -47, "values": [0,0.2,0.4,0.6,0.8,1], "format": ".1f", "tickSize": -4, "labelPadding": 11, "labelFontSize": 17.5, "labelFlush": false, "labelOverlap": false, "title": null}},
       "y2": {"datum": 1}}},
     {"data": {"name": "pdfB"}, "mark": {"type": "line", "color": "#ff0000", "strokeWidth": 1.5},
      "encoding": {
       "x": {"field": "z", "type": "quantitative", "axis": {"orient": "top", "offset": -350.3, "values": [0,1,2,3,4,5,6,7,8], "tickSize": -4, "labels": false, "title": null}},
       "y": {"field": "p", "type": "quantitative", "axis": {"orient": "left", "offset": -491.3, "values": [0,0.2,0.4,0.6,0.8,1], "tickSize": -4, "labels": false, "title": null}}}},
     {"data": {"values": [{}]}, "mark": {"type": "point", "shape": "circle", "filled": false, "color": "#444444", "size": 75, "strokeWidth": 1, "opacity": 1},
      "encoding": {"x": {"datum": 7.5, "type": "quantitative", "axis": null}, "y": {"datum": 0.5, "type": "quantitative", "axis": null}}},
     {"data": {"values": [{}]}, "mark": {"type": "text", "text": "z_spec=-99.00000", "color": "black", "fontSize": 23, "align": "center", "baseline": "middle"},
      "encoding": {"x": {"datum": 4, "type": "quantitative", "axis": null}, "y": {"datum": 1.18, "type": "quantitative", "axis": null}}}
    ],
    "resolve": {"axis": {"x": "independent", "y": "independent"}}
   }
  ],
  "resolve": {"scale": {"x": "independent", "y": "independent"}}
 }
]
}
